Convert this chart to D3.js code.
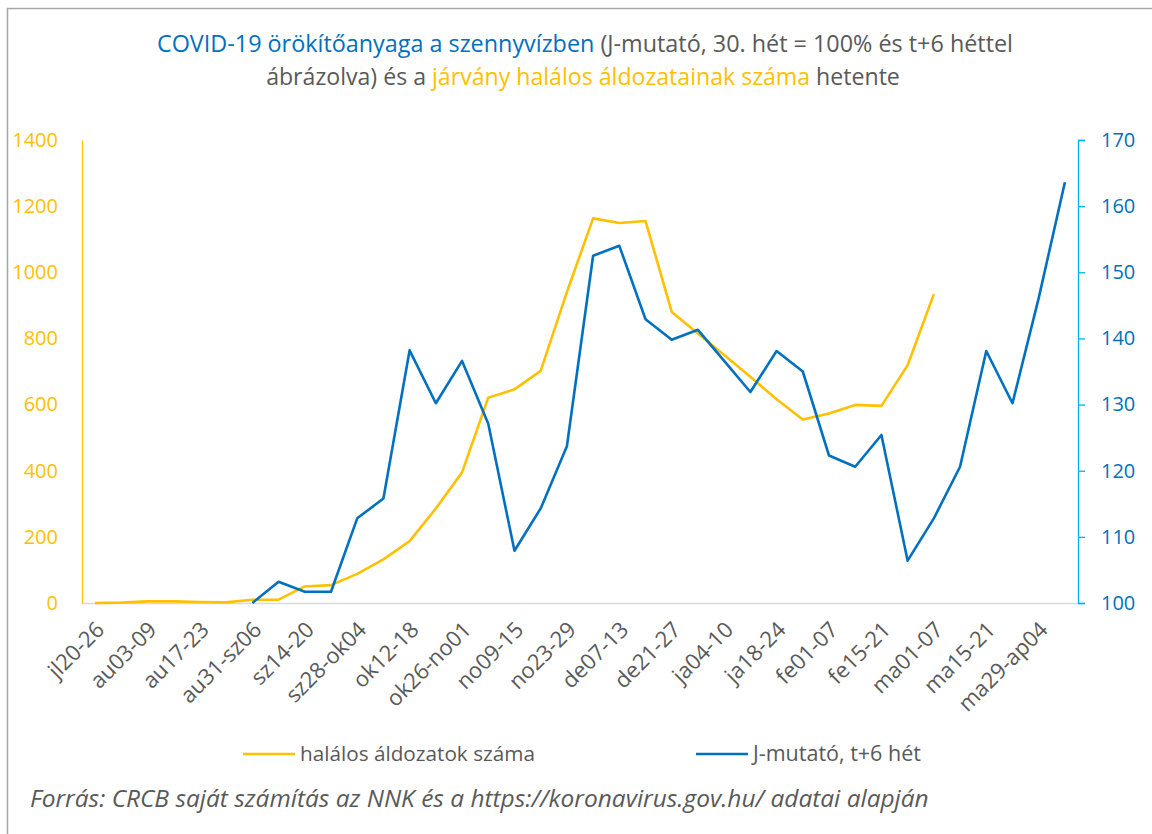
<!DOCTYPE html>
<html>
<head>
<meta charset="utf-8">
<script src="https://cdn.jsdelivr.net/npm/d3@7"></script>
<style>
  body { margin: 0; background: #fff; }
  svg { display: block; font-family: "Open Sans", sans-serif; }
</style>
</head>
<body>
<svg id="chart"></svg>
<script>
// weekly categories (2020 jul - 2021 apr)
const weeks = [
    "jl20-26", "jl27-au02", "au03-09", "au10-16", "au17-23", "au24-30", "au31-sz06", "sz07-13",
    "sz14-20", "sz21-27", "sz28-ok04", "ok05-11", "ok12-18", "ok19-25", "ok26-no01", "no02-08",
    "no09-15", "no16-22", "no23-29", "no30-de06", "de07-13", "de14-20", "de21-27", "de28-ja03",
    "ja04-10", "ja11-17", "ja18-24", "ja25-31", "fe01-07", "fe08-14", "fe15-21", "fe22-28",
    "ma01-07", "ma08-14", "ma15-21", "ma22-28", "ma29-ap04", "ap05-11"
];

// halálos áldozatok száma (left axis)
const deaths = [
    0, 1, 5, 5, 3, 2, 10, 10, 50, 54, 88, 132, 187, 286, 395, 621,
    646, 702, 940, 1163, 1149, 1155, 880, 815, 750, 684, 616, 555, 573, 599,
    596, 719, 934, null, null, null, null, null
];

// J-mutató, t+6 hét (right axis)
const jIndex = [
    null, null, null, null, null, null, 100, 103.2, 101.7, 101.7, 112.8, 115.8,
    138.2, 130.2, 136.6, 127.1, 107.9, 114.3, 123.7, 152.5, 154.0, 142.9, 139.8, 141.3,
    136.6, 131.9, 138.1, 135.0, 122.3, 120.6, 125.4, 106.4, 112.8, 120.6, 138.1, 130.2,
    146.1, 163.6
];

const leftTicks = [0, 200, 400, 600, 800, 1000, 1200, 1400];
const rightTicks = [100, 110, 120, 130, 140, 150, 160, 170];

const ORANGE = "#FFC000", BLUE = "#0070C0", GREY = "#595959";

const width = 1152, height = 834;
const margin = { left: 82, right: 1078, top: 140, bottom: 603 };

const svg = d3.select("#chart").attr("width", width).attr("height", height);

// chart border (only top/left visible in the crop)
svg.append("rect")
    .attr("x", 7.5).attr("y", 8.5)
    .attr("width", 1200).attr("height", 900)
    .attr("fill", "none")
    .attr("stroke", "#A6A6A6")
    .attr("stroke-width", 1.5);

// fit a text element to a target width by scaling its font size
function fit(sel, target) {
    const node = sel.node();
    const fs = parseFloat(sel.attr("font-size"));
    const w = node.getComputedTextLength();
    sel.attr("font-size", (fs * target / w).toFixed(2));
}

// title
const t1 = svg.append("text").attr("x", 585).attr("y", 52)
    .attr("text-anchor", "middle").attr("font-size", 18);
t1.append("tspan").attr("fill", BLUE).text("COVID-19 örökítőanyaga a szennyvízben");
t1.append("tspan").attr("fill", GREY).text(" (J-mutató, 30. hét = 100% és t+6 héttel");
fit(t1, 856);

const t2 = svg.append("text").attr("x", 583).attr("y", 85)
    .attr("text-anchor", "middle").attr("font-size", 18);
t2.append("tspan").attr("fill", GREY).text("ábrázolva) és a ");
t2.append("tspan").attr("fill", ORANGE).text("járvány halálos áldozatainak száma");
t2.append("tspan").attr("fill", GREY).text(" hetente");
fit(t2, 634);

// scales
const x = d3.scalePoint().domain(weeks).range([margin.left, margin.right]).padding(0.5);
const yL = d3.scaleLinear().domain([0, 1400]).range([margin.bottom, margin.top]);
const yR = d3.scaleLinear().domain([100, 170]).range([margin.bottom, margin.top]);

// x axis
const xAxis = svg.append("g")
    .attr("transform", `translate(0, ${margin.bottom})`)
    .call(d3.axisBottom(x)
        .tickValues(weeks.filter((d, i) => i % 2 === 0))
        .tickSize(0).tickSizeOuter(0));
xAxis.select(".domain").attr("stroke", "#D9D9D9").attr("stroke-width", 1.5);
xAxis.selectAll("text")
    .attr("fill", GREY)
    .attr("font-size", 22)
    .attr("font-family", "Open Sans, sans-serif")
    .attr("text-anchor", "end")
    .attr("dy", null)
    .attr("y", 0)
    .attr("transform", "translate(10, 28) rotate(-45)");

// left axis
const leftAxis = svg.append("g")
    .attr("transform", `translate(${margin.left}, 0)`)
    .call(d3.axisLeft(yL).tickValues(leftTicks).tickFormat(d3.format("d"))
        .tickSize(0).tickSizeOuter(0).tickPadding(24));
leftAxis.select(".domain").attr("stroke", ORANGE).attr("stroke-width", 1.3);
leftAxis.selectAll("text")
    .attr("fill", ORANGE).attr("font-size", 20)
    .attr("font-family", "Open Sans, sans-serif");

// right axis
const rightAxis = svg.append("g")
    .attr("transform", `translate(${margin.right}, 0)`)
    .call(d3.axisRight(yR).tickValues(rightTicks).tickSize(7).tickSizeOuter(7).tickPadding(16));
rightAxis.select(".domain").attr("stroke", "#00B0F0").attr("stroke-width", 1.3);
rightAxis.selectAll(".tick line").attr("stroke", "#00B0F0").attr("stroke-width", 1.3);
rightAxis.selectAll("text")
    .attr("fill", BLUE).attr("font-size", 20)
    .attr("font-family", "Open Sans, sans-serif");

// lines
const lineL = d3.line()
    .defined(d => d[1] != null)
    .x(d => x(d[0])).y(d => yL(d[1]));
const lineR = d3.line()
    .defined(d => d[1] != null)
    .x(d => x(d[0])).y(d => yR(d[1]));

svg.append("path")
    .datum(weeks.map((w, i) => [w, deaths[i]]))
    .attr("d", lineL)
    .attr("fill", "none").attr("stroke", ORANGE)
    .attr("stroke-width", 2.6).attr("stroke-linejoin", "round");

svg.append("path")
    .datum(weeks.map((w, i) => [w, jIndex[i]]))
    .attr("d", lineR)
    .attr("fill", "none").attr("stroke", BLUE)
    .attr("stroke-width", 2.6).attr("stroke-linejoin", "round");

// legend
const legend = [
    { label: "halálos áldozatok száma", color: ORANGE, x: 243, w: 235 },
    { label: "J-mutató, t+6 hét", color: BLUE, x: 696, w: 168 }
];
legend.forEach(d => {
    svg.append("line")
        .attr("x1", d.x).attr("x2", d.x + 52)
        .attr("y1", 754).attr("y2", 754)
        .attr("stroke", d.color).attr("stroke-width", 2.6);
    const t = svg.append("text")
        .attr("x", d.x + 57).attr("y", 761)
        .attr("fill", GREY).attr("font-size", 17)
        .text(d.label);
    fit(t, d.w);
});

// source
const src = svg.append("text")
    .attr("x", 30).attr("y", 807)
    .attr("fill", GREY).attr("font-size", 18)
    .attr("font-style", "italic")
    .text("Forrás: CRCB saját számítás az NNK és a https://koronavirus.gov.hu/ adatai alapján");
fit(src, 899);
</script>
</body>
</html>
